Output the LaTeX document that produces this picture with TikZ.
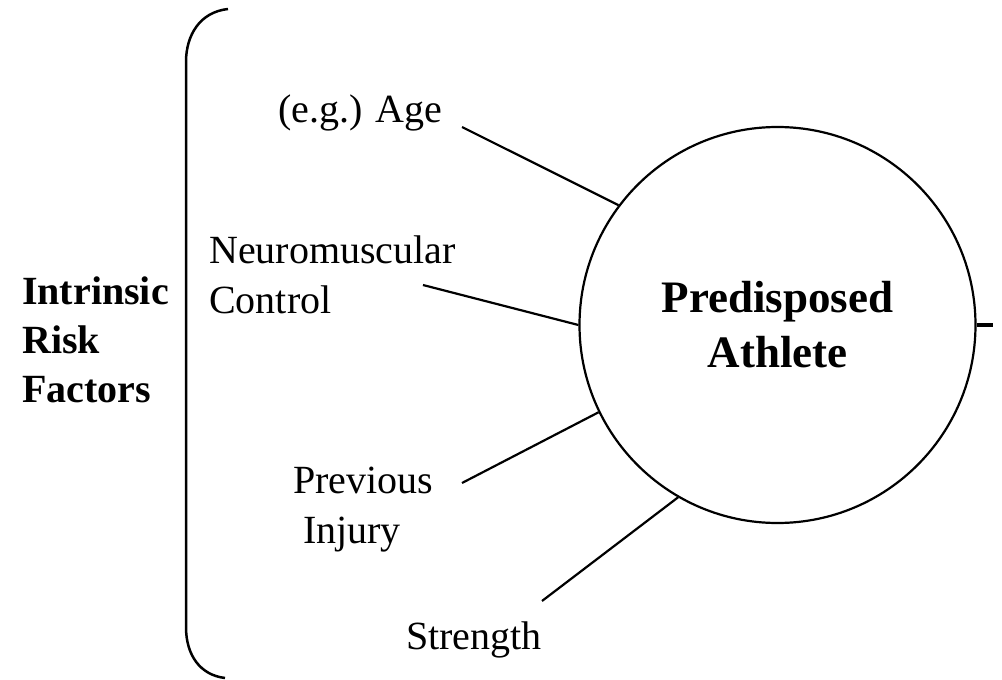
\documentclass[tikz,border=0pt]{standalone}
\usepackage{fontspec}
\setmainfont{Liberation Serif}
\usetikzlibrary{positioning}

\begin{document}
\begin{tikzpicture}[
  x=1pt, y=-1pt,
  every node/.style={inner sep=0pt, font=\fontsize{40}{50}\selectfont},
  factor/.style={align=left, anchor=base west},
  heading/.style={align=left, anchor=base west,
    font=\fontsize{40}{49}\selectfont\bfseries},
  hub/.style={circle, draw, line width=2.2pt, minimum size=396pt,
    align=center, font=\fontsize{45}{55}\selectfont\bfseries},
  link/.style={line width=2.2pt},
  brace/.style={line width=2.5pt},
  tick/.style={line width=3.5pt}
]
  \useasboundingbox (0,0) rectangle (1002,680);

  \node[hub] (athlete) at (777.5,325) {Predisposed\\Athlete};

  \node[heading] (intrinsic) at (22,402) {Intrinsic\\Risk\\Factors};
  \node[factor] (age) at (278,122) {(e.g.) Age};
  \node[factor] (neuro) at (209,313) {Neuromuscular\\Control};
  \node[factor] (injury) at (293,543) {Previous\\\hspace*{10pt}Injury};
  \node[factor] (strength) at (406,649) {Strength};

  % free ends of the spokes, next to each factor
  \coordinate (agetip) at (462,127);
  \coordinate (neurotip) at (423,285);
  \coordinate (injurytip) at (462,483);
  \coordinate (strengthtip) at (542,601);
  \coordinate (outtip) at (993,325);

  \foreach \f/\a in {agetip/143, neurotip/180, injurytip/206,
                     strengthtip/240} {
    \draw[link] (\f) -- (athlete.\a);
  }
  \draw[tick] (athlete.east) -- (outtip);

  % bracket round the factors
  \draw[brace] (228,9) .. controls (200,12) and (186,35) .. (186,62)
      -- (186,627) .. controls (186,655) and (200,675) .. (225,678);
\end{tikzpicture}
\end{document}
